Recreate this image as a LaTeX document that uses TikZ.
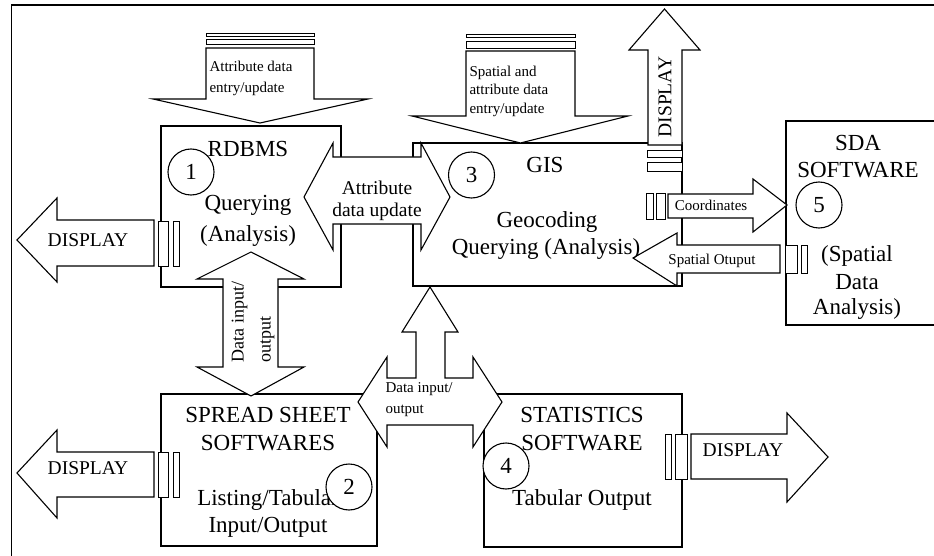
\documentclass[tikz,border=0pt]{standalone}
\usepackage{fontspec}
\setmainfont{Liberation Serif}
\newcommand{\fsMain}{\fontsize{23}{26}\selectfont}
\newcommand{\fsMid}{\fontsize{19.5}{22}\selectfont}
\newcommand{\fsRot}{\fontsize{18}{27}\selectfont}
\newcommand{\fsSmall}{\fontsize{15}{18}\selectfont}
\begin{document}
\begin{tikzpicture}[x=1pt,y=-1pt, line width=1.1pt,
  box/.style={draw, rectangle, inner sep=0},
  blk/.style={draw, fill=white, line join=miter},
  bar/.style={draw, fill=white, line width=0.9pt},
  num/.style={draw, circle, fill=white, minimum size=46, inner sep=0, font=\fsMain},
  maintxt/.style={anchor=base, inner sep=0, font=\fsMain},
  midtxt/.style={anchor=base, inner sep=0, font=\fsMid},
  smalltxt/.style={anchor=base west, inner sep=0, font=\fsSmall}]
\useasboundingbox (0,0) rectangle (934,556);
\clip (0,0) rectangle (934,556);

% outer frame (cut off at right and bottom)
\draw (11.5,570) -- (11.5,5) -- (950,5);

% boxes
\node[box, minimum width=180, minimum height=161] (rdbms) at (251,206.5) {};
\node[box, minimum width=269, minimum height=143] (gis) at (547.5,214.5) {};
\node[box, minimum width=174, minimum height=204] (sda) at (873,223) {};
\node[box, minimum width=216, minimum height=152] (sheet) at (269,470) {};
\node[box, minimum width=198, minimum height=153] (stats) at (583,470.5) {};

% top-left input arrow
\draw[bar] (206,33) rectangle (314,36);
\draw[bar] (206,39) rectangle (314,44);
\draw[blk] (206,48) -- (314,48) -- (314,99) -- (368,99) -- (260,123) -- (153,99) -- (206,99) -- cycle;
\node[smalltxt] (attin1) at (209,72) {Attribute data};
\node[smalltxt] (attin2) at (209,93) {entry/update};

% top-middle input arrow
\draw[bar] (466,34.5) rectangle (575,37.5);
\draw[bar] (466,41.5) rectangle (575,48);
\draw[blk] (466,51) -- (575,51) -- (575,116) -- (628,116) -- (520.5,143) -- (412,116) -- (466,116) -- cycle;
\node[smalltxt] (spin1) at (469,77) {Spatial and};
\node[smalltxt] (spin2) at (469,95) {attribute data};
\node[smalltxt] (spin3) at (469,114) {entry/update};

% display up arrow from GIS
\draw[blk] (648,145) -- (648,50) -- (629,50) -- (664.5,9) -- (700,50) -- (682,50) -- (682,145) -- cycle;
\node[font=\fsMid, rotate=90, inner sep=0] (dispup) at (665,97) {DISPLAY};
\draw[bar] (647,150) rectangle (682,157);
\draw[bar] (647,162) rectangle (682,171);

% display left arrows
\draw[blk] (154,220) -- (57,220) -- (57,198) -- (17,240) -- (57,282) -- (57,266) -- (154,266) -- cycle;
\draw[bar] (158,221) rectangle (168,266);
\draw[bar] (173,221) rectangle (179,266);
\node[midtxt] (displ1) at (88,246) {DISPLAY};

\draw[blk] (154,452) -- (57,452) -- (57,430) -- (17,473) -- (57,518) -- (57,497) -- (154,497) -- cycle;
\draw[bar] (158,452) rectangle (168,497);
\draw[bar] (173,452) rectangle (179,497);
\node[midtxt] (displ2) at (88,474) {DISPLAY};

% display right arrow from statistics
\draw[bar] (665,434) rectangle (671,479);
\draw[bar] (675,434) rectangle (687,479);
\draw[blk] (691,434) -- (787,434) -- (787,413) -- (828,457) -- (787,502) -- (787,479) -- (691,479) -- cycle;
\node[midtxt] (dispr) at (743,456) {DISPLAY};

% attribute data update (RDBMS <-> GIS)
\draw[blk] (304,197) -- (333,143) -- (333,157) -- (421,157) -- (421,143) -- (450,197) -- (421,250) -- (421,224) -- (333,224) -- (333,250) -- cycle;
\node[anchor=base, inner sep=0, font=\fsMid] (adu1) at (377,194.5) {Attribute};
\node[anchor=base, inner sep=0, font=\fsMid] (adu2) at (377,216.5) {data update};

% data input/output (RDBMS <-> spreadsheet)
\draw[blk] (251,252) -- (304,279) -- (278,279) -- (278,367) -- (304,367) -- (251,396) -- (197,367) -- (223,367) -- (223,279) -- (197,279) -- cycle;
\node[font=\fsRot, rotate=90, align=left, inner sep=0] (dio1) at (253,322) {Data input/\\output};

% three-way data input/output (spreadsheet <-> statistics, up to GIS)
\draw[blk] (358,402) -- (387,357) -- (387,378) -- (416,378) -- (416,332) -- (402,332) -- (430,287) -- (458,332) -- (445,332) -- (445,378) -- (473,378) -- (473,357) -- (502,402) -- (473,447) -- (473,425) -- (387,425) -- (387,447) -- cycle;
\node[smalltxt] (dio2a) at (385,392) {Data input/};
\node[smalltxt] (dio2b) at (385,413) {output};

% coordinates arrow (GIS -> SDA)
\draw[bar] (646,193) rectangle (653,219);
\draw[bar] (656,193) rectangle (665,219);
\draw[blk] (668,194) -- (753,194) -- (753,179) -- (787,205) -- (753,232) -- (753,218) -- (668,218) -- cycle;
\node[anchor=base, inner sep=0, font=\fsSmall] (coord) at (711,211) {Coordinates};

% spatial output arrow (SDA -> GIS)
\draw[blk] (780,245) -- (677,245) -- (677,233) -- (633,258) -- (677,286) -- (677,273) -- (780,273) -- cycle;
\draw[bar] (785,245) rectangle (797,273);
\draw[bar] (801,245) rectangle (807,273);
\node[anchor=base, inner sep=0, font=\fsSmall] (spout) at (712,264) {Spatial Otuput};

% spreadsheet listing text (partly hidden by circle 2)
\node[maintxt] (t2c) at (268,505.5) {Listing/Tabular};

% numbered circles
\node[num] (c1) at (191,172) {1};
\node[num] (c3) at (471.5,175) {3};
\node[num] (c5) at (819,205) {5};
\node[num] (c2) at (349,487) {2};
\node[num] (c4) at (506,466) {4};

% box texts
\node[maintxt] (t1a) at (248,157) {RDBMS};
\node[maintxt] (t1b) at (248,211) {Querying};
\node[maintxt] (t1c) at (248,241) {(Analysis)};

\node[maintxt] (t3a) at (545,172.5) {GIS};
\node[maintxt] (t3b) at (547,227.5) {Geocoding};
\node[maintxt] (t3c) at (546,254.5) {Querying (Analysis)};

\node[maintxt] (t5a) at (858,150.5) {SDA};
\node[maintxt] (t5b) at (858,177.5) {SOFTWARE};
\node[maintxt] (t5c) at (857,261.5) {(Spatial};
\node[maintxt] (t5d) at (857,289.5) {Data};
\node[maintxt] (t5e) at (857,314.5) {Analysis)};

\node[maintxt] (t2a) at (268,422.5) {SPREAD SHEET};
\node[maintxt] (t2b) at (268,450.5) {SOFTWARES};
\node[maintxt] (t2d) at (268,532.5) {Input/Output};

\node[maintxt] (t4a) at (582,422.5) {STATISTICS};
\node[maintxt] (t4b) at (582,450.5) {SOFTWARE};
\node[maintxt] (t4c) at (582,505.5) {Tabular Output};
\end{tikzpicture}
\end{document}
